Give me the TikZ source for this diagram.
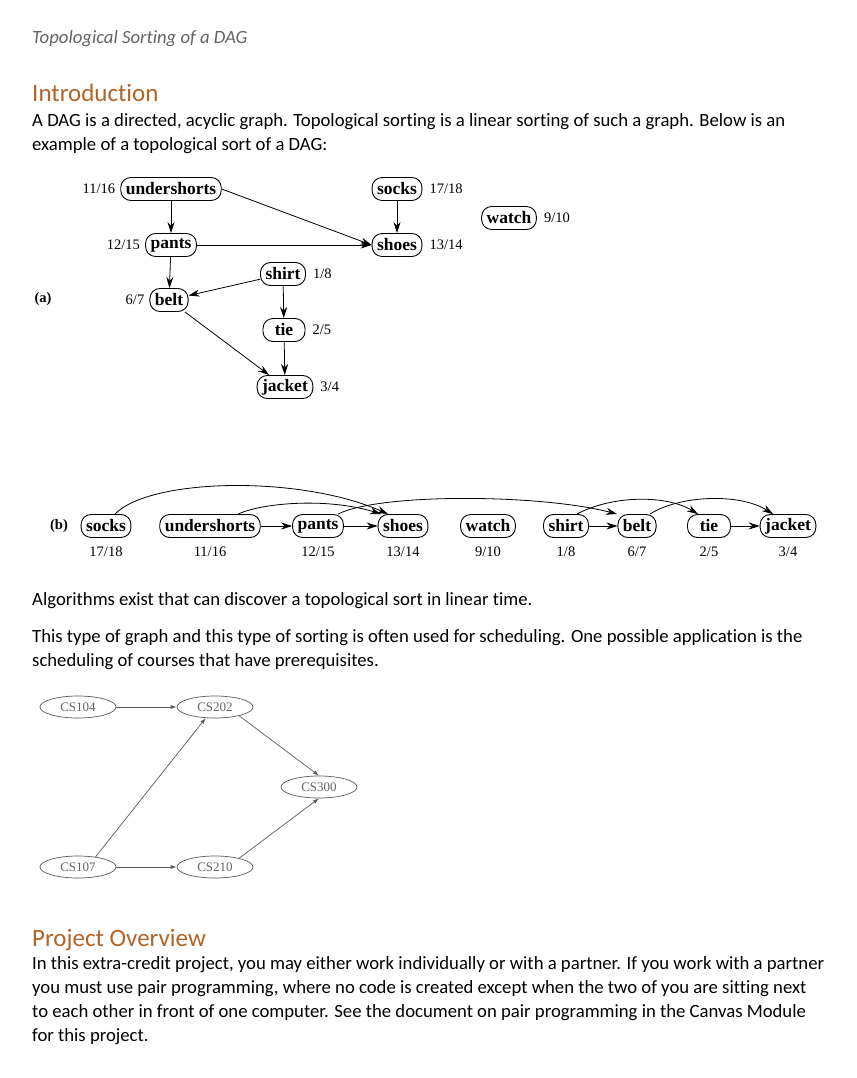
\documentclass[tikz,border=0pt]{standalone}
\usepackage{fontspec}
\setmainfont[Ligatures=NoCommon]{Carlito}
\newfontfamily\tms{Liberation Serif}
\usetikzlibrary{arrows.meta,shapes.geometric}
\definecolor{headc}{RGB}{178,101,40}
\definecolor{greyt}{RGB}{100,100,100}
\definecolor{csline}{RGB}{90,90,90}
\begin{document}
\begin{tikzpicture}[x=1pt,y=-1pt,
  body/.style={anchor=base west,inner sep=0pt,font=\fontsize{18.7}{22}\selectfont},
  head/.style={anchor=base west,inner sep=0pt,font=\fontsize{25}{30}\selectfont,text=headc},
  dnode/.style={draw,line width=0.9pt,rounded corners=10pt,minimum height=23pt,inner xsep=5pt,inner ysep=0pt,font=\tms\bfseries\fontsize{17.5}{19}\selectfont},
  lab/.style={inner sep=0pt,font=\tms\fontsize{14.5}{16}\selectfont},
  arr/.style={line width=0.8pt,-{Stealth[length=11pt,width=7pt]}},
  cs/.style={ellipse,draw=csline,line width=0.7pt,minimum width=76pt,minimum height=22pt,inner sep=0pt,text=greyt,font=\tms\fontsize{13}{15}\selectfont},
  carr/.style={draw=csline,line width=0.7pt,-{Latex[length=6pt,width=4pt]}}]
\useasboundingbox[fill=white] (0,0) rectangle (856,1078);

% texts
\node[body,font=\itshape\fontsize{18.7}{22}\selectfont,text=greyt] (hdr) at (32,44) {Topological Sorting of a DAG};
\node[head] (intro) at (32,102) {Introduction};
\node[body] (t1) at (32,127) {A DAG is a directed, acyclic graph. Topological sorting is a linear sorting of such a graph. Below is an};
\node[body] (t2) at (32,151) {example of a topological sort of a DAG:};
\node[body] (t3) at (32,605) {Algorithms exist that can discover a topological sort in linear time.};
\node[body] (t4) at (32,642) {This type of graph and this type of sorting is often used for scheduling. One possible application is the};
\node[body] (t5) at (32,666) {scheduling of courses that have prerequisites.};
\node[head] (proj) at (32,946) {Project Overview};
\node[body] (t6) at (32,969) {In this extra-credit project, you may either work individually or with a partner. If you work with a partner};
\node[body] (t7) at (32,993) {you must use pair programming, where no code is created except when the two of you are sitting next};
\node[body] (t8) at (32,1017) {to each other in front of one computer. See the document on pair programming in the Canvas Module};
\node[body] (t9) at (32,1041) {for this project.};

% (a)
\node[lab,font=\tms\bfseries\fontsize{14.5}{16}\selectfont] (la) at (43,299) {(a)};
\node[dnode] (aus) at (171,189) {undershorts};
\node[dnode] (aso) at (397,189) {socks};
\node[dnode] (awa) at (509,218) {watch};
\node[dnode] (apa) at (171,245) {pants};
\node[dnode] (ash) at (397,245) {shoes};
\node[dnode] (asi) at (283,274) {shirt};
\node[dnode] (abe) at (169,300) {belt};
\node[dnode,minimum width=42pt] (ati) at (284,330) {tie};
\node[dnode] (aja) at (285,387) {jacket};
\node[lab,anchor=east] at ([xshift=-5pt]aus.west) {11/16};
\node[lab,anchor=west] at ([xshift=7pt]aso.east) {17/18};
\node[lab,anchor=west] at ([xshift=7pt]awa.east) {9/10};
\node[lab,anchor=east] at ([xshift=-5pt]apa.west) {12/15};
\node[lab,anchor=west] at ([xshift=7pt]ash.east) {13/14};
\node[lab,anchor=west] at ([xshift=7pt]asi.east) {1/8};
\node[lab,anchor=east] at ([xshift=-5pt]abe.west) {6/7};
\node[lab,anchor=west] at ([xshift=7pt]ati.east) {2/5};
\node[lab,anchor=west] at ([xshift=7pt]aja.east) {3/4};
\draw[arr] (aus) -- (apa);
\draw[arr] (aus.east) -- (ash.west);
\draw[arr] (apa) -- (ash);
\draw[arr] (aso) -- (ash);
\draw[arr] (apa) -- (abe);
\draw[arr] (asi) -- (abe);
\draw[arr] (asi) -- (ati);
\draw[arr] (ati) -- (aja);
\draw[arr] (abe) -- (aja);

% (b)
\node[lab,font=\tms\bfseries\fontsize{14.5}{16}\selectfont] (lb) at (59,526) {(b)};
\node[dnode] (bso) at (106,526) {socks};
\node[dnode] (bus) at (210,526) {undershorts};
\node[dnode] (bpa) at (318,526) {pants};
\node[dnode] (bsh) at (403,526) {shoes};
\node[dnode] (bwa) at (488,526) {watch};
\node[dnode] (bsi) at (566,526) {shirt};
\node[dnode] (bbe) at (637,526) {belt};
\node[dnode,minimum width=43pt] (bti) at (709,526) {tie};
\node[dnode] (bja) at (788,526) {jacket};
\foreach \n/\t in {bso/17\slash18,bus/11\slash16,bpa/12\slash15,bsh/13\slash14,bwa/9\slash10,bsi/1\slash8,bbe/6\slash7,bti/2\slash5,bja/3\slash4}
  \node[lab] at ([yshift=-26pt]\n.center) {\t};
\draw[arr] (bus) -- (bpa);
\draw[arr] (bpa) -- (bsh);
\draw[arr] (bsi) -- (bbe);
\draw[arr] (bti) -- (bja);
\draw[arr] ([xshift=9pt]bso.north) .. controls (150,478) and (300,475) .. ([xshift=-15pt]bsh.north);
\draw[arr] ([xshift=28pt]bus.north) .. controls (265,502) and (330,498) .. ([xshift=-22pt]bsh.north);
\draw[arr] ([xshift=20pt]bpa.north) .. controls (380,493) and (540,494) .. ([xshift=-20pt]bbe.north);
\draw[arr] ([xshift=11pt]bsi.north) .. controls (610,496) and (665,494) .. ([xshift=-11pt]bti.north);
\draw[arr] ([xshift=13pt]bbe.north) .. controls (680,495) and (740,493) .. ([xshift=-15pt]bja.north);

% courses
\node[cs] (c104) at (78,707) {CS104};
\node[cs] (c202) at (215,707) {CS202};
\node[cs] (c300) at (319,787) {CS300};
\node[cs] (c107) at (78,867) {CS107};
\node[cs] (c210) at (215,867) {CS210};
\draw[carr] (c104) -- (c202);
\draw[carr] (c107) -- (c210);
\draw[carr] (c107.30) -- (c202.230);
\draw[carr] (c202.-20) -- (c300.north);
\draw[carr] (c210.20) -- (c300.south);
\end{tikzpicture}
\end{document}
